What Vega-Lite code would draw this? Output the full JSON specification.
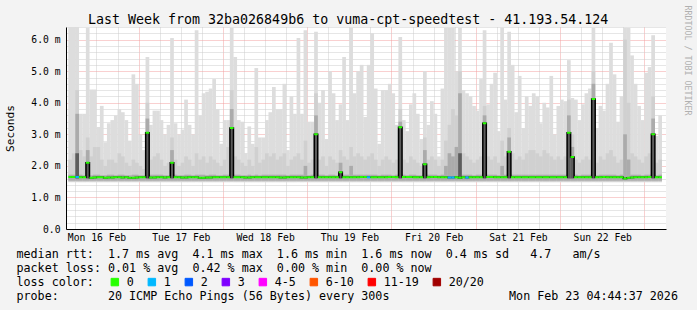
{
"$schema": "https://vega.github.io/schema/vega-lite/v6.json",
"width": 600, "height": 202,
"autosize": {"type": "none"},
"padding": {"left": 66, "top": 27, "right": 31, "bottom": 81},
"background": "#f3f3f3",
"config": {"view": {"fill": "#ffffff", "stroke": null}, "font": "DejaVu Sans Mono"},
"title": {"text": "Last Week from 32ba026849b6 to vuma-cpt-speedtest - 41.193.54.124", "anchor": "start", "frame": "group", "dx": 22, "dy": 36, "offset": 4, "baseline": "alphabetic", "font": "DejaVu Sans Mono", "fontSize": 13.3, "fontWeight": "normal", "color": "#000000"},
"data": {"values": [
{"t":4.5,"h":6.4,"m":2.2,"s":1.72,"md":1.65,"l":"0"},
{"t":5.5,"h":6.4,"m":2.4,"s":1.72,"md":1.65,"l":"0"},
{"t":6.5,"h":6.4,"m":4.4,"s":3.65,"k":2.4,"md":1.65,"l":"1"},
{"t":7.5,"h":3.65,"m":2.5,"s":1.72,"md":1.64,"l":"0"},
{"t":8.5,"h":3.65,"m":2.3,"s":1.7,"md":1.64,"l":"0"},
{"t":9.5,"h":6.38,"m":2.9,"s":2.5,"k":2.1,"md":2.1,"l":"0"},
{"t":10.5,"h":4.42,"m":2.3,"s":1.7,"md":1.62,"l":"0"},
{"t":11.5,"h":4.42,"m":2.6,"s":1.72,"md":1.63,"l":"0"},
{"t":12.5,"h":3.23,"m":2.6,"s":1.72,"md":1.64,"l":"0"},
{"t":13.5,"h":3.9,"m":2.2,"s":1.7,"md":1.64,"l":"0"},
{"t":14.5,"h":2.75,"m":2.0,"s":1.7,"md":1.62,"l":"0"},
{"t":15.5,"h":3.35,"m":2.2,"s":1.72,"md":1.63,"l":"0"},
{"t":16.5,"h":3.45,"m":2.2,"s":1.72,"md":1.63,"l":"0"},
{"t":17.5,"h":3.6,"m":2.1,"s":1.7,"md":1.64,"l":"0"},
{"t":18.5,"h":3.8,"m":2.4,"s":1.72,"md":1.64,"l":"0"},
{"t":19.5,"h":3.7,"m":2.3,"s":1.72,"md":1.63,"l":"0"},
{"t":20.5,"h":3.45,"m":2.1,"s":1.7,"md":1.64,"l":"0"},
{"t":21.5,"h":2.8,"m":2.0,"s":1.7,"md":1.62,"l":"0"},
{"t":22.5,"h":4.9,"m":2.2,"s":1.72,"md":1.62,"l":"0"},
{"t":23.5,"h":4.6,"m":2.1,"s":1.72,"md":1.63,"l":"0"},
{"t":24.5,"h":3.0,"m":2.0,"s":1.7,"md":1.64,"l":"0"},
{"t":25.5,"h":2.5,"m":1.9,"s":1.7,"md":1.64,"l":"0"},
{"t":26.5,"h":5.45,"m":4.0,"s":3.5,"k":3.05,"md":3.05,"l":"0"},
{"t":27.5,"h":3.3,"m":2.2,"s":1.72,"md":1.63,"l":"0"},
{"t":28.5,"h":3.75,"m":2.3,"s":1.72,"md":1.63,"l":"0"},
{"t":29.5,"h":3.75,"m":2.4,"s":1.72,"md":1.64,"l":"0"},
{"t":30.5,"h":3.45,"m":2.2,"s":1.72,"md":1.64,"l":"0"},
{"t":31.5,"h":3.0,"m":2.0,"s":1.7,"md":1.63,"l":"0"},
{"t":32.5,"h":3.3,"m":2.1,"s":1.7,"md":1.64,"l":"0"},
{"t":33.5,"h":6.05,"m":2.9,"s":2.5,"k":2.1,"md":2.1,"l":"0"},
{"t":34.5,"h":3.35,"m":2.2,"s":1.72,"md":1.64,"l":"0"},
{"t":35.5,"h":3.0,"m":2.0,"s":1.7,"md":1.64,"l":"0"},
{"t":36.5,"h":3.15,"m":2.1,"s":1.7,"md":1.63,"l":"0"},
{"t":37.5,"h":4.1,"m":2.3,"s":1.72,"md":1.63,"l":"0"},
{"t":38.5,"h":3.3,"m":2.2,"s":1.72,"md":1.64,"l":"0"},
{"t":39.5,"h":3.0,"m":2.0,"s":1.7,"md":1.64,"l":"0"},
{"t":40.5,"h":6.3,"m":2.4,"s":1.72,"md":1.64,"l":"0"},
{"t":41.5,"h":3.6,"m":2.2,"s":1.72,"md":1.62,"l":"0"},
{"t":42.5,"h":4.3,"m":2.3,"s":1.72,"md":1.62,"l":"0"},
{"t":43.5,"h":4.35,"m":2.1,"s":1.7,"md":1.63,"l":"0"},
{"t":44.5,"h":4.45,"m":2.3,"s":1.72,"md":1.63,"l":"0"},
{"t":45.5,"h":4.75,"m":2.2,"s":1.72,"md":1.64,"l":"0"},
{"t":46.5,"h":3.8,"m":2.1,"s":1.7,"md":1.64,"l":"0"},
{"t":47.5,"h":2.7,"m":2.0,"s":1.7,"md":1.64,"l":"0"},
{"t":48.5,"h":3.45,"m":2.2,"s":1.72,"md":1.64,"l":"0"},
{"t":49.5,"h":3.45,"m":2.6,"s":1.72,"md":1.64,"l":"0"},
{"t":50.5,"h":6.38,"m":4.4,"s":3.8,"k":3.2,"md":3.2,"l":"0"},
{"t":51.5,"h":5.45,"m":2.3,"s":1.72,"md":1.64,"l":"0"},
{"t":52.5,"h":3.45,"m":2.2,"s":1.72,"md":1.64,"l":"0"},
{"t":53.5,"h":3.4,"m":2.1,"s":1.7,"md":1.64,"l":"0"},
{"t":54.5,"h":2.4,"m":2.0,"s":1.7,"md":1.63,"l":"0"},
{"t":55.5,"h":3.25,"m":2.2,"s":1.72,"md":1.63,"l":"0"},
{"t":56.5,"h":2.7,"m":2.0,"s":1.7,"md":1.64,"l":"0"},
{"t":57.5,"h":5.1,"m":2.6,"s":1.72,"md":1.64,"l":"0"},
{"t":58.5,"h":2.9,"m":2.1,"s":1.7,"md":1.64,"l":"0"},
{"t":59.5,"h":2.9,"m":2.2,"s":1.72,"md":1.64,"l":"0"},
{"t":60.5,"h":3.45,"m":2.4,"s":1.72,"md":1.64,"l":"0"},
{"t":61.5,"h":3.7,"m":2.3,"s":1.72,"md":1.64,"l":"0"},
{"t":62.5,"h":4.5,"m":2.4,"s":1.72,"md":1.64,"l":"0"},
{"t":63.5,"h":3.8,"m":2.2,"s":1.72,"md":1.64,"l":"0"},
{"t":64.5,"h":3.8,"m":2.3,"s":1.72,"md":1.63,"l":"0"},
{"t":65.5,"h":4.6,"m":2.4,"s":1.72,"md":1.63,"l":"0"},
{"t":66.5,"h":2.5,"m":2.0,"s":1.7,"md":1.64,"l":"0"},
{"t":67.5,"h":4.2,"m":2.2,"s":1.72,"md":1.64,"l":"0"},
{"t":68.5,"h":3.65,"m":2.3,"s":1.72,"md":1.64,"l":"0"},
{"t":69.5,"h":6.05,"m":2.4,"s":1.72,"md":1.64,"l":"0"},
{"t":70.5,"h":3.65,"m":2.2,"s":1.72,"md":1.63,"l":"0"},
{"t":71.5,"h":6.3,"m":2.8,"s":2.0,"md":1.63,"l":"0"},
{"t":72.5,"h":3.4,"m":2.1,"s":1.7,"md":1.64,"l":"0"},
{"t":73.5,"h":3.4,"m":2.2,"s":1.72,"md":1.64,"l":"0"},
{"t":74.5,"h":6.25,"m":4.3,"s":3.6,"k":3.0,"md":3.0,"l":"0"},
{"t":75.5,"h":4.0,"m":2.2,"s":1.72,"md":1.64,"l":"0"},
{"t":76.5,"h":4.4,"m":2.3,"s":1.72,"md":1.64,"l":"0"},
{"t":77.5,"h":2.85,"m":2.0,"s":1.7,"md":1.64,"l":"0"},
{"t":78.5,"h":5.0,"m":2.3,"s":1.72,"md":1.64,"l":"0"},
{"t":79.5,"h":4.3,"m":2.2,"s":1.72,"md":1.64,"l":"0"},
{"t":80.5,"h":3.45,"m":2.1,"s":1.7,"md":1.64,"l":"0"},
{"t":81.5,"h":3.95,"m":2.5,"s":2.1,"k":1.8,"md":1.8,"l":"0"},
{"t":82.5,"h":5.45,"m":2.3,"s":1.72,"md":1.64,"l":"0"},
{"t":83.5,"h":3.45,"m":2.2,"s":1.72,"md":1.64,"l":"0"},
{"t":84.5,"h":6.38,"m":2.6,"s":2.0,"md":1.64,"l":"0"},
{"t":85.5,"h":4.3,"m":2.3,"s":1.72,"md":1.64,"l":"0"},
{"t":86.5,"h":5.0,"m":2.4,"s":1.72,"md":1.64,"l":"0"},
{"t":87.5,"h":5.2,"m":2.3,"s":1.72,"md":1.65,"l":"0"},
{"t":88.5,"h":3.55,"m":2.2,"s":1.72,"md":1.65,"l":"0"},
{"t":89.5,"h":5.2,"m":2.3,"s":1.72,"md":1.64,"l":"1"},
{"t":90.5,"h":6.2,"m":2.4,"s":1.72,"md":1.64,"l":"0"},
{"t":91.5,"h":4.45,"m":2.2,"s":1.72,"md":1.64,"l":"0"},
{"t":92.5,"h":2.7,"m":2.0,"s":1.7,"md":1.64,"l":"0"},
{"t":93.5,"h":4.4,"m":2.2,"s":1.72,"md":1.64,"l":"0"},
{"t":94.5,"h":4.4,"m":2.3,"s":1.72,"md":1.64,"l":"0"},
{"t":95.5,"h":4.6,"m":2.2,"s":1.72,"md":1.65,"l":"0"},
{"t":96.5,"h":4.3,"m":2.1,"s":1.7,"md":1.65,"l":"0"},
{"t":97.5,"h":3.3,"m":2.2,"s":1.72,"md":1.64,"l":"0"},
{"t":98.5,"h":6.08,"m":3.8,"s":3.4,"k":3.22,"md":3.22,"l":"0"},
{"t":99.5,"h":3.45,"m":2.2,"s":1.72,"md":1.65,"l":"0"},
{"t":100.5,"h":3.1,"m":2.1,"s":1.7,"md":1.65,"l":"0"},
{"t":101.5,"h":3.95,"m":2.3,"s":1.72,"md":1.65,"l":"0"},
{"t":102.5,"h":4.3,"m":2.2,"s":1.72,"md":1.64,"l":"0"},
{"t":103.5,"h":3.65,"m":2.1,"s":1.7,"md":1.64,"l":"0"},
{"t":104.5,"h":2.85,"m":2.0,"s":1.7,"md":1.64,"l":"0"},
{"t":105.5,"h":5.0,"m":2.9,"s":2.5,"k":2.05,"md":2.05,"l":"0"},
{"t":106.5,"h":3.3,"m":2.2,"s":1.72,"md":1.64,"l":"0"},
{"t":107.5,"h":4.05,"m":2.3,"s":1.72,"md":1.65,"l":"0"},
{"t":108.5,"h":3.65,"m":2.2,"s":1.72,"md":1.65,"l":"0"},
{"t":109.5,"h":2.3,"m":2.0,"s":1.7,"md":1.64,"l":"0"},
{"t":110.5,"h":4.45,"m":2.2,"s":1.72,"md":1.64,"l":"0"},
{"t":111.5,"h":6.38,"m":2.8,"s":2.0,"md":1.64,"l":"0"},
{"t":112.5,"h":6.38,"m":3.3,"s":2.4,"md":1.63,"l":"1"},
{"t":113.5,"h":6.38,"m":3.8,"s":2.3,"md":1.63,"l":"1"},
{"t":114.5,"h":5.0,"m":3.6,"s":2.6,"md":1.64,"l":"0"},
{"t":115.5,"h":6.38,"m":5.0,"s":4.3,"k":2.4,"md":1.62,"l":"0"},
{"t":116.5,"h":4.4,"m":2.4,"s":1.72,"md":1.64,"l":"0"},
{"t":117.5,"h":4.3,"m":2.3,"s":1.72,"md":1.63,"l":"1"},
{"t":118.5,"h":4.2,"m":2.2,"s":1.72,"md":1.64,"l":"0"},
{"t":119.5,"h":3.9,"m":2.1,"s":1.7,"md":1.64,"l":"0"},
{"t":120.5,"h":3.75,"m":2.2,"s":1.72,"md":1.64,"l":"0"},
{"t":121.5,"h":4.75,"m":2.3,"s":1.72,"md":1.64,"l":"0"},
{"t":122.5,"h":6.3,"m":3.9,"s":3.6,"k":3.35,"md":3.35,"l":"0"},
{"t":123.5,"h":3.95,"m":2.3,"s":1.72,"md":1.65,"l":"0"},
{"t":124.5,"h":4.6,"m":2.2,"s":1.72,"md":1.65,"l":"0"},
{"t":125.5,"h":4.95,"m":2.3,"s":1.72,"md":1.64,"l":"0"},
{"t":126.5,"h":3.1,"m":2.1,"s":1.7,"md":1.64,"l":"0"},
{"t":127.5,"h":6.38,"m":2.8,"s":2.0,"md":1.64,"l":"0"},
{"t":128.5,"h":4.1,"m":2.3,"s":1.72,"md":1.64,"l":"0"},
{"t":129.5,"h":6.25,"m":3.2,"s":2.9,"k":2.45,"md":2.45,"l":"0"},
{"t":130.5,"h":5.2,"m":2.4,"s":1.72,"md":1.64,"l":"0"},
{"t":131.5,"h":3.7,"m":2.2,"s":1.72,"md":1.64,"l":"0"},
{"t":132.5,"h":4.85,"m":2.3,"s":1.72,"md":1.64,"l":"0"},
{"t":133.5,"h":3.2,"m":2.2,"s":1.72,"md":1.64,"l":"0"},
{"t":134.5,"h":4.2,"m":2.4,"s":1.72,"md":1.64,"l":"0"},
{"t":135.5,"h":3.9,"m":2.5,"s":1.72,"md":1.64,"l":"0"},
{"t":136.5,"h":4.3,"m":2.5,"s":1.72,"md":1.64,"l":"0"},
{"t":137.5,"h":4.2,"m":2.4,"s":1.72,"md":1.64,"l":"0"},
{"t":138.5,"h":3.35,"m":2.3,"s":1.72,"md":1.64,"l":"0"},
{"t":139.5,"h":4.0,"m":2.5,"s":1.72,"md":1.64,"l":"0"},
{"t":140.5,"h":3.85,"m":2.4,"s":1.72,"md":1.64,"l":"0"},
{"t":141.5,"h":4.85,"m":2.3,"s":1.72,"md":1.64,"l":"0"},
{"t":142.5,"h":3.0,"m":2.2,"s":1.72,"md":1.64,"l":"0"},
{"t":143.5,"h":3.9,"m":2.3,"s":1.72,"md":1.64,"l":"0"},
{"t":144.5,"h":4.1,"m":2.2,"s":1.72,"md":1.64,"l":"0"},
{"t":145.5,"h":4.05,"m":2.3,"s":1.72,"md":1.64,"l":"0"},
{"t":146.5,"h":5.35,"m":4.1,"s":3.6,"k":3.05,"md":3.05,"l":"0"},
{"t":147.5,"h":4.15,"m":3.0,"s":2.6,"k":2.28,"md":2.28,"l":"0"},
{"t":148.5,"h":4.1,"m":2.2,"s":1.72,"md":1.64,"l":"0"},
{"t":149.5,"h":3.45,"m":2.1,"s":1.7,"md":1.64,"l":"0"},
{"t":150.5,"h":3.95,"m":2.2,"s":1.72,"md":1.64,"l":"0"},
{"t":151.5,"h":4.3,"m":2.3,"s":1.72,"md":1.64,"l":"0"},
{"t":152.5,"h":4.45,"m":2.2,"s":1.72,"md":1.64,"l":"0"},
{"t":153.5,"h":6.38,"m":5.0,"s":4.6,"k":4.12,"md":4.12,"l":"0"},
{"t":154.5,"h":3.2,"m":2.1,"s":1.7,"md":1.64,"l":"0"},
{"t":155.5,"h":3.9,"m":2.3,"s":1.72,"md":1.64,"l":"0"},
{"t":156.5,"h":3.75,"m":2.2,"s":1.72,"md":1.65,"l":"0"},
{"t":157.5,"h":4.6,"m":2.4,"s":1.72,"md":1.64,"l":"0"},
{"t":158.5,"h":5.9,"m":2.5,"s":1.72,"md":1.64,"l":"0"},
{"t":159.5,"h":4.9,"m":2.3,"s":1.72,"md":1.64,"l":"0"},
{"t":160.5,"h":3.4,"m":2.1,"s":1.7,"md":1.64,"l":"0"},
{"t":161.5,"h":4.2,"m":2.2,"s":1.72,"md":1.64,"l":"0"},
{"t":162.5,"h":6.38,"m":6.0,"s":3.0,"md":1.6,"l":"0"},
{"t":163.5,"h":6.38,"m":4.0,"s":2.2,"md":1.62,"l":"0"},
{"t":164.5,"h":5.5,"m":2.4,"s":1.72,"md":1.63,"l":"0"},
{"t":165.5,"h":4.6,"m":2.3,"s":1.72,"md":1.64,"l":"0"},
{"t":166.5,"h":3.9,"m":2.2,"s":1.72,"md":1.64,"l":"0"},
{"t":167.5,"h":3.45,"m":2.1,"s":1.7,"md":1.64,"l":"0"},
{"t":168.5,"h":4.95,"m":2.3,"s":1.72,"md":1.64,"l":"0"},
{"t":169.5,"h":5.13,"m":2.4,"s":1.72,"md":1.65,"l":"0"},
{"t":170.5,"h":6.14,"m":4.2,"s":3.5,"k":3.0,"md":3.0,"l":"0"},
{"t":171.5,"h":2.95,"m":2.1,"s":1.7,"md":1.64,"l":"0"},
{"t":172.5,"h":3.6,"m":2.2,"s":1.72,"md":1.64,"l":"0"}
]},
"encoding": {
  "x": {"field": "t", "type": "quantitative",
    "scale": {"domain": [4.74, 172.74], "nice": false, "zero": false},
    "axis": {
      "values": [6,12,18,24,30,36,42,48,54,60,66,72,78,84,90,96,102,108,114,120,126,132,138,144,150,156,162,168],
      "labelExpr": "datum.value % 24 == 12 ? ['Mon 16 Feb','Tue 17 Feb','Wed 18 Feb','Thu 19 Feb','Fri 20 Feb','Sat 21 Feb','Sun 22 Feb'][floor(datum.value / 24)] : ''",
      "labelOverlap": false, "labelFlush": false, "labelBound": false,
      "labelFont": "DejaVu Sans Mono", "labelFontSize": 9.7, "labelColor": "#000000", "labelPadding": 3,
      "ticks": false, "domainColor": "#000000", "domainWidth": 1,
      "grid": true, "gridDash": [1, 1], "gridWidth": 1,
      "gridColor": {"condition": {"test": "datum.value % 24 == 0", "value": "#f2a0a0"}, "value": "#cdcdcd"},
      "title": [
        "median\u00a0rtt:\u00a0\u00a01.7\u00a0ms\u00a0avg\u00a0\u00a04.1\u00a0ms\u00a0max\u00a0\u00a01.6\u00a0ms\u00a0min\u00a0\u00a01.6\u00a0ms\u00a0now\u00a0\u00a00.4\u00a0ms\u00a0sd\u00a0\u00a0\u00a04.7\u00a0\u00a0\u00a0am/s",
        "packet\u00a0loss:\u00a00.01\u00a0%\u00a0avg\u00a0\u00a00.42\u00a0%\u00a0max\u00a0\u00a00.00\u00a0%\u00a0min\u00a0\u00a00.00\u00a0%\u00a0now",
        "loss\u00a0color:",
        "probe:\u00a0\u00a0\u00a0\u00a0\u00a0\u00a0\u00a020\u00a0ICMP\u00a0Echo\u00a0Pings\u00a0(56\u00a0Bytes)\u00a0every\u00a0300s\u00a0\u00a0\u00a0\u00a0\u00a0\u00a0\u00a0\u00a0\u00a0\u00a0\u00a0\u00a0\u00a0\u00a0\u00a0\u00a0\u00a0Mon\u00a0Feb\u00a023\u00a004:44:37\u00a02026"
      ],
      "titleFont": "DejaVu Sans Mono", "titleFontSize": 11.7, "titleFontWeight": "normal", "titleColor": "#000000",
      "titleAlign": "left", "titleAnchor": "start", "titleBaseline": "alphabetic",
      "titleX": -50, "titleY": 28, "titleLineHeight": 14
    }
  }
},
"resolve": {"axis": {"y": "independent"}},
"layer": [
  {"mark": {"type": "bar", "width": 3.7, "color": "#dddddd", "clip": true},
   "encoding": {
     "y": {"field": "h", "type": "quantitative", "scale": {"domain": [0, 6.4], "nice": false, "zero": true},
       "axis": {
         "orient": "left",
         "values": [0,0.2,0.4,0.6,0.8,1,1.2,1.4,1.6,1.8,2,2.2,2.4,2.6,2.8,3,3.2,3.4,3.6,3.8,4,4.2,4.4,4.6,4.8,5,5.2,5.4,5.6,5.8,6,6.2,6.4],
         "labelExpr": "abs(datum.value - round(datum.value)) < 0.01 ? (datum.value < 0.01 ? '0.0' : format(datum.value, '.1f') + ' m') : ''",
         "labelOverlap": false, "labelFlush": false, "labelBound": false,
         "labelFont": "DejaVu Sans Mono", "labelFontSize": 9.7, "labelColor": "#000000", "labelPadding": 6, "labelBaseline": "middle",
         "ticks": false, "domainColor": "#000000", "domainWidth": 1,
         "grid": true, "gridDash": [1, 1], "gridWidth": 1,
         "gridColor": {"condition": {"test": "abs(datum.value - round(datum.value)) < 0.01", "value": "#f2a0a0"}, "value": "#cdcdcd"},
         "title": "Seconds", "titleFont": "DejaVu Sans Mono", "titleFontSize": 11.1, "titleFontWeight": "normal", "titleColor": "#000000",
         "titleAngle": -90, "titleX": -56, "titleY": 101, "titleAlign": "center", "titleBaseline": "middle"
       }},
     "y2": {"datum": 1.48}
   }},
  {"mark": {"type": "bar", "width": 3.7, "color": "#d0d0d0", "clip": true},
   "encoding": {
     "y": {"field": "m", "type": "quantitative", "scale": {"domain": [0, 6.4], "nice": false}, "axis": null},
     "y2": {"datum": 1.5}
   }},
  {"mark": {"type": "bar", "width": 3.7, "color": "#ababab", "clip": true},
   "encoding": {
     "y": {"field": "s", "type": "quantitative", "scale": {"domain": [0, 6.4], "nice": false}, "axis": null},
     "y2": {"datum": 1.53}
   }},
  {"mark": {"type": "bar", "width": 3.7, "color": "#5c5c5c", "clip": true},
   "encoding": {
     "y": {"field": "k", "type": "quantitative", "scale": {"domain": [0, 6.4], "nice": false}, "axis": null},
     "y2": {"datum": 1.6}
   }},
  {"mark": {"type": "line", "interpolate": "step", "color": "#000000", "strokeWidth": 1.5, "clip": true},
   "encoding": {
     "y": {"field": "md", "type": "quantitative", "scale": {"domain": [0, 6.4], "nice": false},
       "axis": {"orient": "right", "labels": false, "ticks": false, "domain": false, "grid": false,
         "title": "RRDTOOL / TOBI OETIKER", "titleFont": "DejaVu Sans Mono", "titleFontSize": 8.3, "titleFontWeight": "normal",
         "titleColor": "#b0b0b0", "titleAngle": 90, "titleX": 20, "titleY": -22, "titleAlign": "left", "titleBaseline": "middle"}}
   }},
  {"mark": {"type": "bar", "width": 3.57, "strokeWidth": 2, "clip": true},
   "encoding": {
     "y": {"field": "md", "type": "quantitative", "scale": {"domain": [0, 6.4], "nice": false}, "axis": null},
     "y2": {"field": "md"},
     "color": {"field": "l", "type": "nominal",
       "scale": {"domain": ["0","1","2","3","4-5","6-10","11-19","20/20"], "range": ["#26ff00","#00b8ff","#0059ff","#7e00ff","#ff00ff","#ff5500","#ff0000","#a10000"]},
       "legend": {"orient": "none", "legendX": 43, "legendY": 249, "direction": "horizontal", "columns": 8, "title": null,
         "symbolType": "square", "symbolSize": 56, "symbolStrokeColor": "#000000", "symbolStrokeWidth": 1, "symbolOpacity": 1,
         "labelFont": "DejaVu Sans Mono", "labelFontSize": 11.7, "labelColor": "#000000", "labelOffset": 6, "columnPadding": 12, "padding": 0,
         "encode": {"symbols": {"update": {"stroke": {"value": "#000000"}, "strokeWidth": {"value": 1}}}}}},
     "stroke": {"field": "l", "type": "nominal",
       "scale": {"domain": ["0","1","2","3","4-5","6-10","11-19","20/20"], "range": ["#26ff00","#00b8ff","#0059ff","#7e00ff","#ff00ff","#ff5500","#ff0000","#a10000"]},
       "legend": null}
   }}
]
}
